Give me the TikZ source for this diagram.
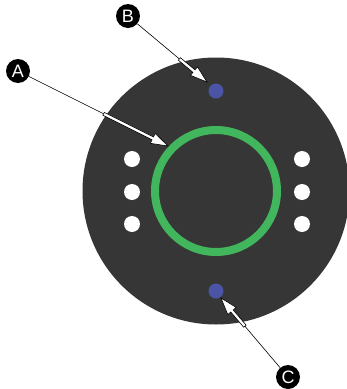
\documentclass[tikz,border=0pt]{standalone}
\usepackage{fontspec}
\setmainfont{Liberation Sans}
\usetikzlibrary{calc}
\definecolor{diskgray}{RGB}{54,54,54}
\definecolor{ringgreen}{RGB}{66,182,92}
\definecolor{dotblue}{RGB}{76,84,166}
\newcommand\hollowarr[3]{%
  \coordinate (hb) at ($(#2)!17pt!(#1)$);
  \coordinate (he) at ($(#2)!#3!(#1)$);
  \draw[line width=0.6pt] (#1) -- (he);
  \filldraw[fill=white,draw=black,line width=0.6pt,line join=miter]
    (#2) -- ($(hb)!5.5pt!90:(#2)$) -- ($(hb)!1.6pt!90:(#2)$) -- ($(he)!1.6pt!90:(#2)$)
    -- ($(he)!1.6pt!-90:(#2)$) -- ($(hb)!1.6pt!-90:(#2)$) -- ($(hb)!5.5pt!-90:(#2)$) -- cycle;
}
\begin{document}
\begin{tikzpicture}[x=1pt,y=-1pt,
  lbl/.style={circle,fill=black,text=white,minimum size=24pt,inner sep=0pt,font=\fontsize{18}{18}\selectfont},
  wdot/.style={circle,fill=white,minimum size=16pt,inner sep=0pt},
  bdot/.style={circle,fill=dotblue,minimum size=15pt,inner sep=0pt}]
\useasboundingbox (0,0) rectangle (347,389);
\fill[white] (0,0) rectangle (347,389);
\begin{scope}
\clip (0,0) rectangle (347,389);
\node[circle,fill=diskgray,minimum size=267pt,inner sep=0pt] (disk) at (216,191) {};
\end{scope}
\node[circle,draw=ringgreen,line width=8pt,minimum size=122pt,inner sep=0pt] (ring) at (216,191) {};
\node[bdot] (dtop) at (216,91) {};
\node[bdot] (dbot) at (216,291) {};
\node[wdot] (l1) at (132,159) {};
\node[wdot] (l2) at (132,192) {};
\node[wdot] (l3) at (132,224) {};
\node[wdot] (r1) at (302,159) {};
\node[wdot] (r2) at (302,192) {};
\node[wdot] (r3) at (302,224) {};
\node[lbl] (A) at (18,71) {A};
\node[lbl] (B) at (128,16) {B};
\node[lbl] (C) at (288,377) {C};
\coordinate (tA) at (168,146);
\coordinate (tB) at (207,82);
\coordinate (tC) at (221,298);
\hollowarr{A}{tA}{72pt}
\hollowarr{B}{tB}{36pt}
\hollowarr{C}{tC}{37pt}
\end{tikzpicture}
\end{document}
